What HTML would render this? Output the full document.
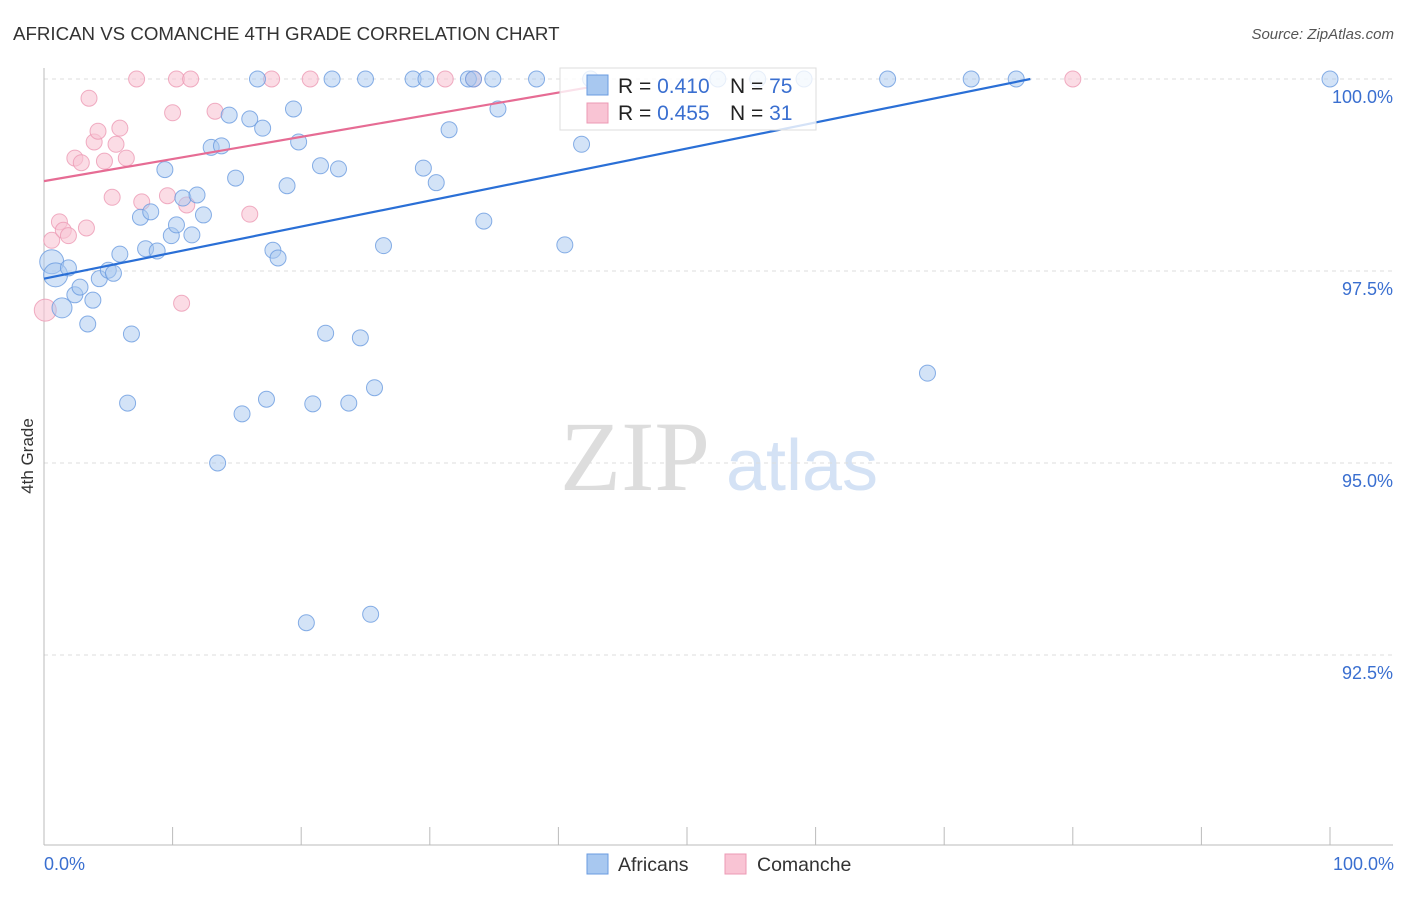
<!DOCTYPE html>
<html><head><meta charset="utf-8"><style>
body{margin:0;background:#fff;font-family:"Liberation Sans",sans-serif;}
</style></head><body>
<svg width="1406" height="892" xmlns="http://www.w3.org/2000/svg" font-family="Liberation Sans, sans-serif">
<text x="13" y="40" font-size="18.7" fill="#333">AFRICAN VS COMANCHE 4TH GRADE CORRELATION CHART</text>
<text x="1394" y="39" font-size="15" fill="#555" font-style="italic" text-anchor="end">Source: ZipAtlas.com</text>
<text transform="translate(33,456) rotate(-90)" font-size="17" fill="#333" text-anchor="middle">4th Grade</text>
<g>
<text x="635" y="490" font-size="100" fill="#ddd" style="font-family:'Liberation Serif',serif" text-anchor="middle">ZIP</text>
<text x="802" y="490" font-size="72" fill="#d4e2f5" text-anchor="middle">atlas</text>
</g>
<g id="grid"></g><g id="axes"></g><g id="marks"></g>
<g>
<rect x="560" y="68" width="256" height="62" fill="#fff" fill-opacity="0.8" stroke="#ddd"/>
<rect x="587" y="75" width="21" height="20" fill="#a8c8f0" stroke="#6a9be0"/>
<rect x="587" y="103" width="21" height="20" fill="#f9c4d4" stroke="#ec9ab4"/>
<text x="618" y="93" font-size="21" fill="#222">R = <tspan fill="#3a6fd0">0.410</tspan></text>
<text x="730" y="93" font-size="21" fill="#222">N = <tspan fill="#3a6fd0">75</tspan></text>
<text x="618" y="120" font-size="21" fill="#222">R = <tspan fill="#3a6fd0">0.455</tspan></text>
<text x="730" y="120" font-size="21" fill="#222">N = <tspan fill="#3a6fd0"> 31</tspan></text>
</g>
<g>
<rect x="587" y="854" width="21" height="20" fill="#a8c8f0" stroke="#6a9be0"/>
<text x="618" y="871" font-size="19.5" fill="#333">Africans</text>
<rect x="725" y="854" width="21" height="20" fill="#f9c4d4" stroke="#ec9ab4"/>
<text x="757" y="871" font-size="19.5" fill="#333">Comanche</text>
</g>
</svg>
<script>
const yTicks=[100,97.5,95,92.5];
const yTickLabels=["100.0%","97.5%","95.0%","92.5%"];
const xTickLabels=["0.0%","100.0%"];
const africansX=[0.6,0.9,1.4,1.9,2.4,2.8,3.4,3.8,4.3,5.0,5.4,5.9,6.5,6.8,7.5,7.9,8.3,8.8,9.4,9.9,10.3,10.8,11.5,11.9,12.4,13.0,13.5,13.8,14.4,14.9,15.4,16.0,16.6,17.0,17.3,17.8,18.2,18.9,19.4,19.8,20.4,20.9,21.5,21.9,22.4,22.9,23.7,24.6,25.0,25.4,25.7,26.4,28.7,29.5,29.7,30.5,31.5,33.0,33.4,34.2,34.9,35.3,38.3,40.5,41.8,42.5,52.4,55.5,59.1,65.6,68.7,72.1,75.6,100];
const africansY=[97.62,97.45,97.02,97.54,97.19,97.29,96.81,97.12,97.40,97.51,97.47,97.72,95.78,96.68,98.20,97.79,98.27,97.76,98.82,97.96,98.10,98.45,97.97,98.49,98.23,99.11,95.00,99.13,99.53,98.71,95.64,99.48,100,99.36,95.83,97.77,97.67,98.61,99.61,99.18,92.92,95.77,98.87,96.69,100,98.83,95.78,96.63,100,93.03,95.98,97.83,100,98.84,100,98.65,99.34,100,100,98.15,100,99.61,100,97.84,99.15,100,100,100,100,100,96.17,100,100,100];
const africansR=[12,12,10,8,8,8,8,8,8,8,8,8,8,8,8,8,8,8,8,8,8,8,8,8,8,8,8,8,8,8,8,8,8,8,8,8,8,8,8,8,8,8,8,8,8,8,8,8,8,8,8,8,8,8,8,8,8,8,8,8,8,8,8,8,8,8,8,8,8,8,8,8,8,8];
const comancheX=[0.1,0.6,1.2,1.5,1.9,2.4,2.9,3.3,3.5,3.9,4.2,4.7,5.3,5.6,5.9,6.4,7.2,7.6,9.6,10.0,10.3,10.7,11.1,11.4,13.3,16.0,17.7,20.7,31.2,33.4,80.0];
const comancheY=[96.99,97.90,98.14,98.03,97.96,98.97,98.91,98.06,99.75,99.18,99.32,98.93,98.46,99.15,99.36,98.97,100,98.40,98.48,99.56,100,97.08,98.36,100,99.58,98.24,100,100,100,100,100];
const africansTrend=[[0,97.40],[76.7,100]];
const comancheTrend=[[0,98.67],[43,99.91]];
const NS="http://www.w3.org/2000/svg";
const xs=v=>44+v*12.86;
const ys=v=>79+(100-v)*76.8;
function mk(t,a,p){const e=document.createElementNS(NS,t);for(const k in a)e.setAttribute(k,a[k]);p.appendChild(e);return e;}
const grid=document.getElementById('grid'),axes=document.getElementById('axes'),marks=document.getElementById('marks');
yTicks.forEach((v,i)=>{
 const l=mk('line',{x1:44,x2:1393,y1:ys(v),y2:ys(v),stroke:'#ddd','stroke-dasharray':'4,4'},grid);
 
 
 const t=mk('text',{x:1393,y:ys(v)+24,'font-size':18,fill:'#3a6fd0','text-anchor':'end'},axes);
 t.textContent=yTickLabels[i];
 
 
});
const ax=mk('line',{x1:44,x2:1393,y1:845,y2:845,stroke:'#bbb'},axes);


const ay=mk('line',{x1:44,x2:44,y1:68,y2:845,stroke:'#bbb'},axes);


for(let i=0;i<=10;i++){
 const tk=mk('line',{x1:xs(i*10),x2:xs(i*10),y1:827,y2:845,stroke:'#bbb'},axes);
 
 
}
[[0,'start',44],[100,'end',1394]].forEach((d,i)=>{
 const t=mk('text',{x:d[2],y:870,'font-size':18,fill:'#3a6fd0','text-anchor':d[1]},axes);
 t.textContent=xTickLabels[i];
 
 
});
comancheX.forEach((x,i)=>{
 const c=mk('circle',{cx:xs(x),cy:ys(comancheY[i]),r:i==0?11:8,fill:'#f9c4d4','fill-opacity':0.6,stroke:'#ec9ab4','stroke-opacity':0.8},marks);
 
 
});
africansX.forEach((x,i)=>{
 const c=mk('circle',{cx:xs(x),cy:ys(africansY[i]),r:africansR[i],fill:'#a8c8f0','fill-opacity':0.5,stroke:'#6a9be0','stroke-opacity':0.8},marks);
 
 
});
const tb=mk('line',{x1:xs(africansTrend[0][0]),y1:ys(africansTrend[0][1]),x2:xs(africansTrend[1][0]),y2:ys(africansTrend[1][1]),stroke:'#2a6fd6','stroke-width':2.2},marks);


const tp=mk('line',{x1:xs(comancheTrend[0][0]),y1:ys(comancheTrend[0][1]),x2:xs(comancheTrend[1][0]),y2:ys(comancheTrend[1][1]),stroke:'#e66c94','stroke-width':2.2},marks);


</script>
</body></html>
